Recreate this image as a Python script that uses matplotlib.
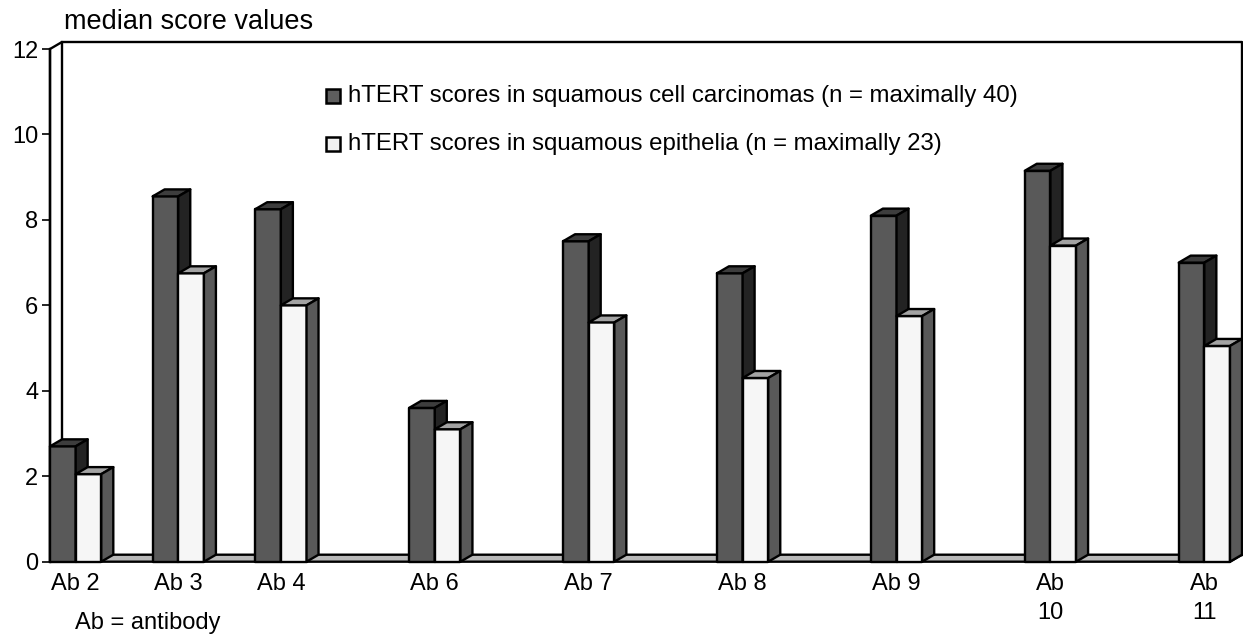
import matplotlib
matplotlib.use("Agg")
import matplotlib.pyplot as plt
from matplotlib.patches import Polygon, Rectangle

plt.rcParams['font.family'] = ['Liberation Sans', 'DejaVu Sans']

# median hTERT scores per antibody
antibodies = ['Ab 2', 'Ab 3', 'Ab 4', 'Ab 6', 'Ab 7', 'Ab 8', 'Ab 9', 'Ab\n10', 'Ab\n11']
group_pos = [0, 1, 2, 3.5, 5, 6.5, 8, 9.5, 11]
carcinoma = [2.7, 8.55, 8.25, 3.6, 7.5, 6.75, 8.1, 9.15, 7.0]
epithelia = [2.05, 6.75, 6.0, 3.1, 5.6, 4.3, 5.75, 7.4, 5.05]
series_labels = ['hTERT scores in squamous cell carcinomas (n = maximally 40)',
                 'hTERT scores in squamous epithelia (n = maximally 23)']
yticks = [0, 2, 4, 6, 8, 10, 12]

W, H = 1243, 637
fig = plt.figure(figsize=(W / 100, H / 100), dpi=100)
ax_l, ax_r, ax_b, ax_t = 50, 1230, 561.7, 49
ax = fig.add_axes([ax_l / W, 1 - ax_b / H, (ax_r - ax_l) / W, (ax_b - ax_t) / H])

xmin, xmax = -0.25, 11.25
ymin, ymax = 0, 12
ax.set_xlim(xmin, xmax)
ax.set_ylim(ymin, ymax)

# depth offset, pixels -> data units
px_x = (ax_r - ax_l) / (xmax - xmin)
px_y = (ax_b - ax_t) / (ymax - ymin)
dx = 12 / px_x
dy = 7 / px_y
bw = 0.25
lw = 1.7

def add_poly(pts, fc, z):
    ax.add_patch(Polygon(pts, closed=True, facecolor=fc, edgecolor='black',
                         linewidth=lw, joinstyle='round', clip_on=False, zorder=z))

# floor and left wall
add_poly([(xmin, 0), (xmax, 0), (xmax + dx, dy), (xmin + dx, dy)], '#b9b9b9', 1)
add_poly([(xmin, 0), (xmin + dx, dy), (xmin + dx, ymax + dy), (xmin, ymax)], 'white', 1)
ax.plot([xmin + dx, xmax + dx, xmax + dx], [ymax + dy, ymax + dy, dy],
        color='black', lw=lw, clip_on=False, zorder=1)

def bar3d(x0, h, front, top, side, z):
    add_poly([(x0, 0), (x0 + bw, 0), (x0 + bw, h), (x0, h)], front, z)
    add_poly([(x0, h), (x0 + bw, h), (x0 + bw + dx, h + dy), (x0 + dx, h + dy)], top, z)
    add_poly([(x0 + bw, 0), (x0 + bw + dx, dy), (x0 + bw + dx, h + dy), (x0 + bw, h)], side, z)

for i, (p, a, b) in enumerate(zip(group_pos, carcinoma, epithelia)):
    bar3d(p - bw, a, '#595959', '#3d3d3d', '#232323', 3 + 2 * i)
    bar3d(p, b, '#f6f6f6', '#a3a3a3', '#595959', 4 + 2 * i)

for s in ['top', 'right', 'bottom']:
    ax.spines[s].set_visible(False)
ax.spines['left'].set_linewidth(lw)
ax.spines['left'].set_zorder(2)
ax.set_yticks(yticks)
ax.tick_params(axis='y', length=6, width=1.2, pad=2.5, labelsize=17, direction='out')
ax.set_xticks(group_pos)
ax.set_xticklabels(antibodies, linespacing=1.4)
ax.tick_params(axis='x', length=0, pad=8, labelsize=17)

# legend
for k, (lab, fc) in enumerate(zip(series_labels, ['#5e5e5e', '#f2f2f2'])):
    yc = 96 + 48 * k
    fig.patches.append(Rectangle((326 / W, 1 - (yc + 7) / H), 14 / W, 14 / H,
                                 transform=fig.transFigure, facecolor=fc,
                                 edgecolor='black', linewidth=1.8))
    fig.text(348 / W, 1 - yc / H, lab, fontsize=17.3, va='center', ha='left')

fig.text(64 / W, 1 - 22 / H, 'median score values', fontsize=19.5, va='center', ha='left')
fig.text(75 / W, 1 - 623 / H, 'Ab = antibody', fontsize=17, va='center', ha='left')

fig.savefig('out.png', dpi=100)
